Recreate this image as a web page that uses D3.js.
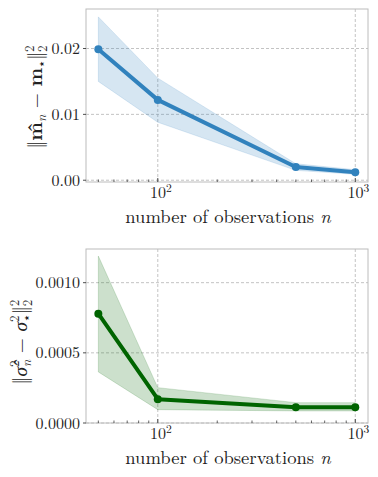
<!DOCTYPE html>
<html>
<head>
<meta charset="utf-8">
<script src="https://cdn.jsdelivr.net/npm/d3@7"></script>
<style>
  body { margin: 0; background: #fff; }
  svg { display: block; }
</style>
</head>
<body>
<script>
// data
const nObs = [50, 100, 500, 1000];

const meanErr = [0.0199, 0.0122, 0.0020, 0.0012];
const meanLo  = [0.0150, 0.0088, 0.0015, 0.0009];
const meanHi  = [0.0248, 0.0155, 0.0025, 0.0016];

const varErr = [0.000779, 0.000170, 0.000112, 0.000112];
const varLo  = [0.000364, 0.000095, 0.000086, 0.000086];
const varHi  = [0.001190, 0.000252, 0.000145, 0.000145];

const meanTicks = [0, 0.01, 0.02];
const meanTickLabels = ["0.00", "0.01", "0.02"];
const varTicks = [0, 0.0005, 0.001];
const varTickLabels = ["0.0000", "0.0005", "0.0010"];

const xMajor = [100, 1000];
const xMajorExp = ["2", "3"];
const xMinor = [50, 60, 70, 80, 90, 200, 300, 400, 500, 600, 700, 800, 900];

const W = 378, H = 477;
const FONT = "Latin Modern Roman";
const svg = d3.select("body").append("svg")
  .attr("width", W)
  .attr("height", H)
  .attr("font-family", FONT);

function panel(cfg) {
  const left = 86, right = 368;
  const x = d3.scaleLog().domain([43.3, 1160]).range([left, right]);
  const y = d3.scaleLinear().domain(cfg.yDomain).range([cfg.bottom, cfg.top]);
  const g = svg.append("g");

  // grid
  g.selectAll(".gx").data(xMajor).join("line")
    .attr("x1", d => x(d)).attr("x2", d => x(d))
    .attr("y1", cfg.top).attr("y2", cfg.bottom)
    .attr("stroke", "#b4b4b4").attr("stroke-width", 0.8)
    .attr("stroke-dasharray", "3,2");
  g.selectAll(".gy").data(cfg.ticks).join("line")
    .attr("x1", left).attr("x2", right)
    .attr("y1", d => y(d)).attr("y2", d => y(d))
    .attr("stroke", "#b4b4b4").attr("stroke-width", 0.8)
    .attr("stroke-dasharray", "3,2");

  // band
  const rows = nObs.map((n, i) => ({ n: n, m: cfg.mean[i], lo: cfg.lo[i], hi: cfg.hi[i] }));
  g.append("path").datum(rows)
    .attr("d", d3.area().x(d => x(d.n)).y0(d => y(d.lo)).y1(d => y(d.hi)))
    .attr("fill", cfg.color).attr("fill-opacity", 0.2)
    .attr("stroke", cfg.color).attr("stroke-opacity", 0.2).attr("stroke-width", 0.8);

  // line + markers
  g.append("path").datum(rows)
    .attr("d", d3.line().x(d => x(d.n)).y(d => y(d.m)))
    .attr("fill", "none").attr("stroke", cfg.color)
    .attr("stroke-width", 4).attr("stroke-linejoin", "round");
  g.selectAll("circle").data(rows).join("circle")
    .attr("cx", d => x(d.n)).attr("cy", d => y(d.m)).attr("r", 4)
    .attr("fill", cfg.color);

  // spines
  g.append("rect")
    .attr("x", left).attr("y", cfg.top)
    .attr("width", right - left).attr("height", cfg.bottom - cfg.top)
    .attr("fill", "none").attr("stroke", "#bcbcbc").attr("stroke-width", 1);

  // x ticks
  g.selectAll(".mt").data(xMinor).join("line")
    .attr("x1", d => x(d)).attr("x2", d => x(d))
    .attr("y1", cfg.bottom).attr("y2", cfg.bottom - 2.5)
    .attr("stroke", "#222").attr("stroke-width", 0.7);
  g.selectAll(".Mt").data(xMajor).join("line")
    .attr("x1", d => x(d)).attr("x2", d => x(d))
    .attr("y1", cfg.bottom).attr("y2", cfg.bottom - 4)
    .attr("stroke", "#222").attr("stroke-width", 0.8);
  const xl = g.selectAll(".xl").data(xMajor).join("text")
    .attr("x", d => x(d) + 3).attr("y", cfg.bottom + 16)
    .attr("text-anchor", "middle").attr("fill", "#222")
    .attr("font-size", 16);
  xl.append("tspan").text("10");
  xl.append("tspan").attr("dy", -6).attr("font-size", 11.5).text((d, i) => xMajorExp[i]);

  // y ticks
  g.selectAll(".yt").data(cfg.ticks).join("line")
    .attr("x1", left - 3).attr("x2", left)
    .attr("y1", d => y(d)).attr("y2", d => y(d))
    .attr("stroke", "#222").attr("stroke-width", 0.8);
  g.selectAll(".yl").data(cfg.ticks).join("text")
    .attr("x", left - 6).attr("y", d => y(d) + 5.5)
    .attr("text-anchor", "end").attr("fill", "#222")
    .attr("font-size", 16)
    .text((d, i) => cfg.tickLabels[i]);

  // x label
  const xt = g.append("text")
    .attr("x", (left + right) / 2 + 1).attr("y", cfg.bottom + 40.5)
    .attr("text-anchor", "middle").attr("fill", "#222")
    .attr("font-size", 18.6);
  xt.append("tspan").text("number of observations ");
  xt.append("tspan").attr("font-style", "italic").text("n");

  // y label
  const yt = g.append("text")
    .attr("transform", `translate(${cfg.labelX},${cfg.labelY}) rotate(-90)`)
    .attr("text-anchor", "middle").attr("fill", "#222")
    .attr("font-size", 19.5);
  cfg.label(yt);
}

panel({
  top: 9, bottom: 182,
  yDomain: [-0.00027, 0.0260],
  mean: meanErr, lo: meanLo, hi: meanHi,
  ticks: meanTicks, tickLabels: meanTickLabels,
  color: "#3182bd",
  labelX: 42, labelY: 97,
  label: t => {
    t.append("tspan").text("\u2016");
    t.append("tspan").attr("font-weight", "bold").text("m\u0302");
    t.append("tspan").attr("dy", 4).attr("font-size", 13).attr("font-style", "italic").text("n");
    t.append("tspan").attr("dy", -4).text(" \u2212 ");
    t.append("tspan").attr("font-weight", "bold").text("m");
    t.append("tspan").attr("dy", 4).attr("font-size", 13).text("\u22c6");
    t.append("tspan").attr("dy", -4).text("\u2016");
    t.append("tspan").attr("dy", -8).attr("font-size", 13).text("2");
    t.append("tspan").attr("dx", -6.5).attr("dy", 13).attr("font-size", 13).text("2");
  }
});

panel({
  top: 249, bottom: 423,
  yDomain: [0, 0.00124],
  mean: varErr, lo: varLo, hi: varHi,
  ticks: varTicks, tickLabels: varTickLabels,
  color: "#006400",
  labelX: 27, labelY: 342,
  label: t => {
    t.append("tspan").text("\u2016");
    t.append("tspan").attr("font-style", "italic").text("\u03c3\u0302");
    t.append("tspan").attr("dy", -8).attr("font-size", 13).text("2");
    t.append("tspan").attr("dx", -6.5).attr("dy", 12).attr("font-size", 13).attr("font-style", "italic").text("n");
    t.append("tspan").attr("dy", -4).text(" \u2212 ");
    t.append("tspan").attr("font-style", "italic").text("\u03c3");
    t.append("tspan").attr("dy", -8).attr("font-size", 13).text("2");
    t.append("tspan").attr("dx", -6.5).attr("dy", 12).attr("font-size", 13).text("\u22c6");
    t.append("tspan").attr("dy", -4).text("\u2016");
    t.append("tspan").attr("dy", -8).attr("font-size", 13).text("2");
    t.append("tspan").attr("dx", -6.5).attr("dy", 13).attr("font-size", 13).text("2");
  }
});
</script>
</body>
</html>
